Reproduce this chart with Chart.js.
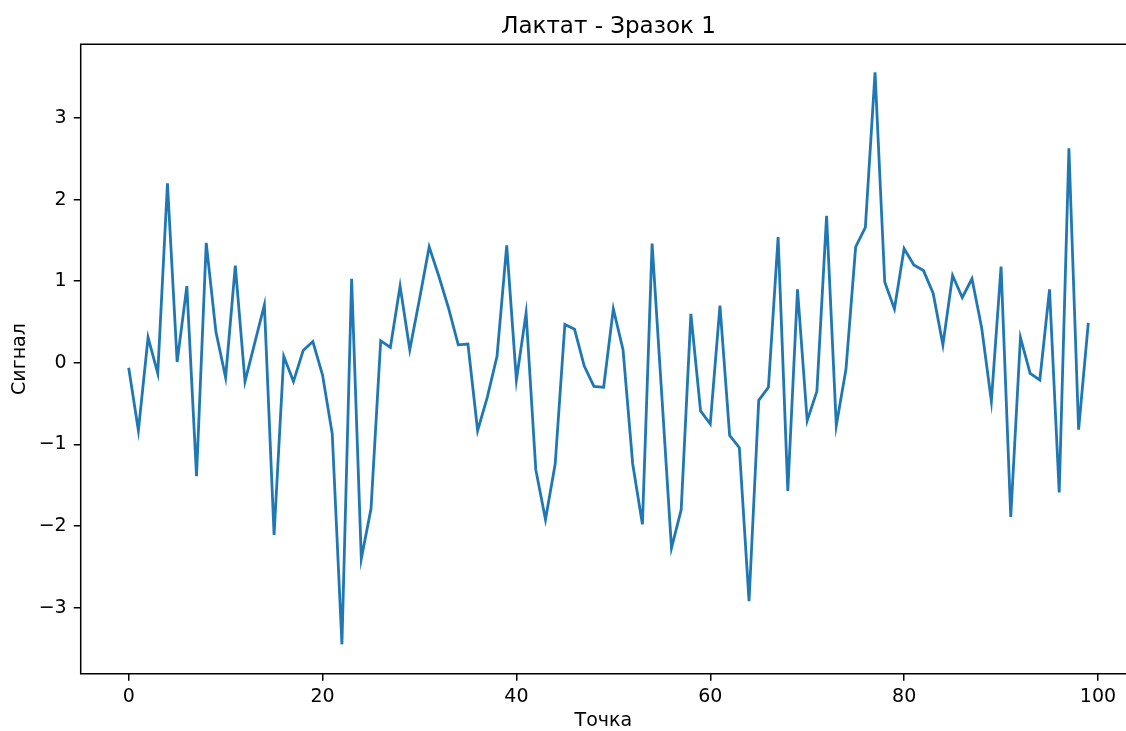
<!DOCTYPE html>
<html>
<head>
<meta charset="utf-8">
<title>Лактат - Зразок 1</title>
<script src="https://cdn.jsdelivr.net/npm/chart.js@4.4.1/dist/chart.umd.min.js"></script>
<style>
  body { margin: 0; background: #fff; }
  canvas { display: block; }
</style>
</head>
<body>
<canvas id="chartSignal" width="1126" height="731"></canvas>
<script>
// data
const signal = [
  -0.06, -0.83, 0.31, -0.13, 2.20, 0.01, 0.94, -1.39, 1.47, 0.38,
  -0.18, 1.19, -0.23, 0.24, 0.71, -2.11, 0.08, -0.23, 0.15, 0.26,
  -0.15, -0.87, -3.45, 1.03, -2.40, -1.79, 0.27, 0.19, 0.94, 0.16,
  0.78, 1.42, 1.06, 0.67, 0.22, 0.23, -0.83, -0.42, 0.08, 1.44,
  -0.21, 0.61, -1.31, -1.92, -1.24, 0.47, 0.41, -0.04, -0.29, -0.30,
  0.66, 0.16, -1.24, -1.98, 1.46, -0.40, -2.27, -1.80, 0.60, -0.59,
  -0.75, 0.70, -0.89, -1.04, -2.92, -0.46, -0.30, 1.54, -1.57, 0.90,
  -0.71, -0.35, 1.80, -0.77, -0.08, 1.42, 1.66, 3.56, 0.99, 0.66,
  1.40, 1.20, 1.13, 0.85, 0.22, 1.07, 0.80, 1.03, 0.43, -0.47,
  1.18, -1.89, 0.31, -0.13, -0.21, 0.90, -1.59, 2.63, -0.82, 0.49
];
const points = signal.map((v, i) => i);   // Точка 0..99
const xTicks = [0, 20, 40, 60, 80, 100];
const yTicks = [-3, -2, -1, 0, 1, 2, 3];
const chartTitle = 'Лактат - Зразок 1';

const font = 'DejaVu Sans';

// in the original the axes run past the right edge of the picture,
// so the visible x range stops before the full 103.95 and there is no right spine
const xMinFull = -4.95, xMaxFull = 103.95;

const frame = {
    id: 'frame',
    afterDraw(chart) {
        const { ctx, chartArea: a } = chart;
        ctx.save();
        ctx.strokeStyle = '#000';
        ctx.lineWidth = 1.5;
        ctx.beginPath();
        ctx.moveTo(chart.width, a.top);
        ctx.lineTo(a.left, a.top);
        ctx.lineTo(a.left, a.bottom);
        ctx.lineTo(chart.width, a.bottom);
        ctx.stroke();

        // title centred over the full axes
        const cx = chart.scales.x.getPixelForValue((xMinFull + xMaxFull) / 2);
        ctx.fillStyle = '#000';
        ctx.font = '23px "' + font + '"';
        ctx.textAlign = 'center';
        ctx.textBaseline = 'alphabetic';
        ctx.fillText(chartTitle, cx, 33);
        ctx.restore();
    }
};

new Chart(document.getElementById('chartSignal'), {
    type: 'line',
    data: {
        datasets: [{
            label: 'Сигнал',
            data: points.map((x, i) => ({ x: x, y: signal[i] })),
            borderColor: '#1f77b4',
            borderWidth: 2.8,
            pointRadius: 0,
            tension: 0,
            fill: false
        }]
    },
    options: {
        responsive: false,
        animation: false,
        layout: { padding: { left: 0, right: 0, top: 44.3, bottom: 0 } },
        plugins: {
            legend: { display: false },
            tooltip: { enabled: false },
            title: { display: false }
        },
        scales: {
            x: {
                type: 'linear',
                min: xMinFull,
                max: 102.89,
                afterFit: (scale) => { scale.height = 57.3; },
                afterBuildTicks: (scale) => { scale.ticks = xTicks.map(v => ({ value: v })); },
                ticks: { color: '#000', padding: 5, maxRotation: 0, font: { family: font, size: 19 } },
                grid: { drawOnChartArea: false, drawTicks: true, tickLength: 7, color: '#000', lineWidth: 1.5 },
                border: { display: false },
                title: {
                    display: true,
                    text: 'Точка',
                    color: '#000',
                    font: { family: font, size: 19, lineHeight: 1 },
                    padding: { top: 0, bottom: 0.5 }
                }
            },
            y: {
                min: -3.81,
                max: 3.903,
                afterFit: (scale) => { scale.width = 80.7; },
                afterBuildTicks: (scale) => { scale.ticks = yTicks.map(v => ({ value: v })); },
                ticks: {
                    color: '#000',
                    padding: 7,
                    font: { family: font, size: 19 },
                    callback: (v) => (v < 0 ? '\u2212' + Math.abs(v) : String(v))
                },
                grid: { drawOnChartArea: false, drawTicks: true, tickLength: 7, color: '#000', lineWidth: 1.5 },
                border: { display: false },
                title: {
                    display: true,
                    text: 'Сигнал',
                    color: '#000',
                    font: { family: font, size: 19, lineHeight: 1 },
                    padding: { top: 10.5, bottom: 0 }
                }
            }
        }
    },
    plugins: [frame]
});
</script>
</body>
</html>
